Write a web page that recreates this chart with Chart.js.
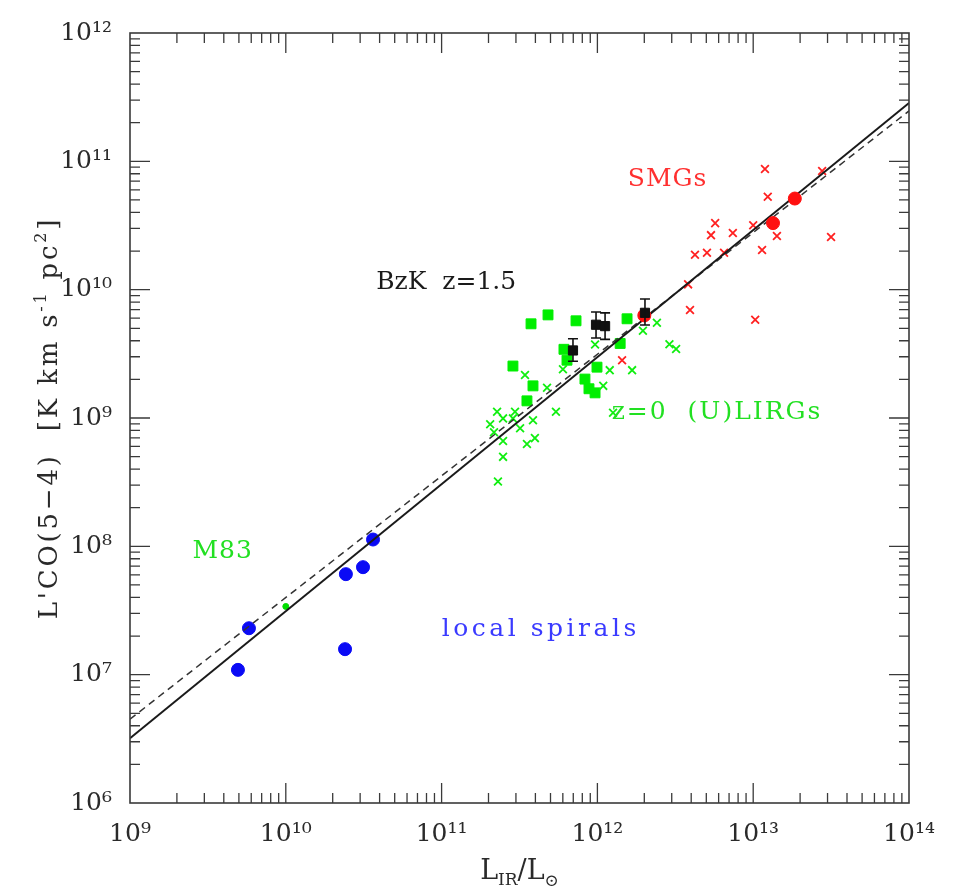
<!DOCTYPE html>
<html><head><meta charset="utf-8">
<script src="https://cdn.jsdelivr.net/npm/chart.js@4/dist/chart.umd.min.js"></script>
<style>html,body{margin:0;padding:0;background:#fff}#wrap{width:962px;height:895px}</style>
</head><body><div id="wrap"><canvas id="c" width="962" height="895"></canvas></div>
<script>
// ---- tick labels ----
const xTickValues = [1e9, 1e10, 1e11, 1e12, 1e13, 1e14];
const xTickLabels = ['10⁹', '10¹⁰', '10¹¹', '10¹²', '10¹³', '10¹⁴'];
const yTickValues = [1e6, 1e7, 1e8, 1e9, 1e10, 1e11, 1e12];
const yTickLabels = ['10⁶', '10⁷', '10⁸', '10⁹', '10¹⁰', '10¹¹', '10¹²'];

// ---- local spirals (blue circles) ----
const spiralsLIR = [4.93e9, 5.8e9, 2.4e10, 2.43e10, 3.13e10, 3.63e10];
const spiralsLCO = [1.09e7, 2.3e7, 1.58e7, 6.07e7, 6.88e7, 1.13e8];

// ---- M83 ----
const m83LIR = [1.0e10];
const m83LCO = [3.4e7];

// ---- z=0 (U)LIRGs, filled squares ----
const lirgSqLIR = [3.75e11, 4.82e11, 7.29e11, 1.55e12, 6.1e11, 6.38e11, 1.40e12, 2.87e11, 9.94e11, 8.32e11, 3.86e11, 8.83e11, 9.66e11, 3.53e11];
const lirgSqLCO = [5.42e9, 6.36e9, 5.72e9, 5.93e9, 3.43e9, 2.82e9, 3.81e9, 2.54e9, 2.49e9, 2.01e9, 1.78e9, 1.69e9, 1.57e9, 1.36e9];

// ---- z=0 (U)LIRGs, crosses ----
const lirgXLIR = [9.66e11, 3.43e11, 4.75e11, 6.01e11, 5.42e11, 2.27e11, 2.96e11, 2.05e11, 2.48e11, 2.87e11, 3.19e11, 3.86e11, 3.97e11, 3.53e11, 2.48e11, 2.48e11, 2.3e11, 1.96e12, 2.41e12, 2.9e12, 3.2e12, 1.2e12, 1.67e12, 1.09e12, 1.26e12, 2.17e11];
const lirgXLCO = [3.74e9, 2.16e9, 1.72e9, 2.4e9, 1.12e9, 1.12e9, 1.12e9, 8.93e8, 9.93e8, 9.93e8, 8.32e8, 9.59e8, 6.97e8, 6.27e8, 6.61e8, 4.98e8, 3.2e8, 4.79e9, 5.52e9, 3.75e9, 3.45e9, 2.36e9, 2.36e9, 1.78e9, 1.1e9, 7.75e8];

// ---- SMGs, crosses ----
const smgXLIR = [1.19e13, 2.77e13, 1.24e13, 5.7e12, 5.36e12, 7.4e12, 1.0e13, 1.42e13, 3.16e13, 4.23e12, 5.05e12, 6.5e12, 1.14e13, 3.82e12, 3.93e12, 1.03e13, 1.44e12];
const smgXLCO = [8.7e10, 8.4e10, 5.3e10, 3.3e10, 2.66e10, 2.76e10, 3.18e10, 2.62e10, 2.57e10, 1.87e10, 1.94e10, 1.94e10, 2.04e10, 1.10e10, 6.95e9, 5.82e9, 2.82e9];

// ---- SMGs, filled circles ----
const smgDotLIR = [1.85e13, 1.34e13, 2.0e12];
const smgDotLCO = [5.13e10, 3.3e10, 6.3e9];

// ---- BzK z=1.5 (black squares with error bars) ----
const bzkLIR = [6.97e11, 9.8e11, 1.12e12, 2.02e12];
const bzkLCO = [3.36e9, 5.33e9, 5.2e9, 6.6e9];
const bzkLCOlo = [2.77e9, 4.2e9, 4.1e9, 5.3e9];
const bzkLCOhi = [4.15e9, 6.7e9, 6.6e9, 8.45e9];

// ---- fits ----
const fitLIR = [1e9, 1e14];
const fitSolidLCO = [3.2e6, 2.85e11];
const fitDashedLCO = [4.5e6, 2.47e11];

// ---- annotation labels ----
const labelTexts = ['SMGs', 'BzK  z=1.5', 'z=0  (U)LIRGs', 'M83', 'local spirals'];
const labelLIR = [2.8e12, 1.07e11, 5.77e12, 3.9e9, 4.22e11];
const labelLCO = [7.2e10, 1.14e10, 1.1e9, 9.1e7, 2.26e7];
const labelColors = ['#ff3030', '#1a1a1a', '#22e022', '#22e022', '#3a3aff'];
const labelSpacing = [1, 0, 2, 1, 3.5];

const pts = (xs, ys) => xs.map((x, i) => ({x: x, y: ys[i]}));
const SERIF = '"DejaVu Serif", "Liberation Serif", serif';

function drawSpaced(ctx, text, x, y, sp) {
  // center text with extra letter spacing
  let w = 0;
  for (const ch of text) w += ctx.measureText(ch).width + sp;
  w -= sp;
  let cx = x - w / 2;
  ctx.textAlign = 'left';
  for (const ch of text) { ctx.fillText(ch, cx, y); cx += ctx.measureText(ch).width + sp; }
}

const framePlugin = {
  id: 'frame',
  afterDatasetsDraw(chart) {
    const ctx = chart.ctx;
    const xs = chart.scales.x, ys = chart.scales.y;
    // error bars
    ctx.save();
    ctx.strokeStyle = '#111'; ctx.lineWidth = 1.6;
    bzkLIR.forEach((lx, i) => {
      const px = xs.getPixelForValue(lx);
      const pl = ys.getPixelForValue(bzkLCOlo[i]);
      const ph = ys.getPixelForValue(bzkLCOhi[i]);
      ctx.beginPath();
      ctx.moveTo(px, pl); ctx.lineTo(px, ph);
      ctx.moveTo(px - 5, pl); ctx.lineTo(px + 5, pl);
      ctx.moveTo(px - 5, ph); ctx.lineTo(px + 5, ph);
      ctx.stroke();
    });
    ctx.restore();
    // annotation texts
    ctx.save();
    ctx.font = '25px ' + SERIF;
    ctx.textBaseline = 'middle';
    labelTexts.forEach((t, i) => {
      ctx.fillStyle = labelColors[i];
      drawSpaced(ctx, t, xs.getPixelForValue(labelLIR[i]), ys.getPixelForValue(labelLCO[i]), labelSpacing[i]);
    });
    ctx.restore();
  },
  afterDraw(chart) {
    const ctx = chart.ctx, a = chart.chartArea;
    const xs = chart.scales.x, ys = chart.scales.y;
    ctx.save();
    ctx.strokeStyle = '#3a3a3a';
    ctx.lineWidth = 1.6;
    ctx.strokeRect(a.left, a.top, a.right - a.left, a.bottom - a.top);
    ctx.lineWidth = 1.3;
    ctx.beginPath();
    for (let e = 9; e < 14; e++) {
      for (let k = 1; k <= 9; k++) {
        const v = k * Math.pow(10, e);
        if (v <= 1e9 || v >= 1e14) continue;
        const p = xs.getPixelForValue(v);
        const len = k === 1 ? 20 : 10;
        ctx.moveTo(p, a.bottom); ctx.lineTo(p, a.bottom - len);
        ctx.moveTo(p, a.top); ctx.lineTo(p, a.top + len);
      }
    }
    for (let e = 6; e < 12; e++) {
      for (let k = 1; k <= 9; k++) {
        const v = k * Math.pow(10, e);
        if (v <= 1e6 || v >= 1e12) continue;
        const p = ys.getPixelForValue(v);
        const len = k === 1 ? 20 : 10;
        ctx.moveTo(a.left, p); ctx.lineTo(a.left + len, p);
        ctx.moveTo(a.right, p); ctx.lineTo(a.right - len, p);
      }
    }
    ctx.stroke();
    ctx.restore();

    // axis titles
    ctx.save();
    ctx.fillStyle = '#2a2a2a';
    ctx.textBaseline = 'alphabetic';
    // x title: L_IR / L_sun
    const big = '27px ' + SERIF, small = '17px ' + SERIF;
    const xParts = [['L', big, 0], ['IR', small, 6], ['/L', big, 0], ['⊙', small, 7]];
    let w = 0;
    xParts.forEach(p => { ctx.font = p[1]; w += ctx.measureText(p[0]).width; });
    let cx = (a.left + a.right) / 2 - w / 2;
    const by = 879;
    xParts.forEach(p => { ctx.font = p[1]; ctx.fillText(p[0], cx, by + p[2]); cx += ctx.measureText(p[0]).width; });
    // y title
    ctx.translate(57, (a.top + a.bottom) / 2);
    ctx.rotate(-Math.PI / 2);
    const sp = 2.8;
    const yBig = '26px ' + SERIF, ySmall = '16px ' + SERIF;
    const yParts = [["L'CO(5\u22124)  [K km s", yBig, 0], ['-1', ySmall, -11], [' pc', yBig, 0], ['2', ySmall, -11], [']', yBig, 0]];
    w = 0;
    yParts.forEach(p => { ctx.font = p[1]; for (const ch of p[0]) w += ctx.measureText(ch).width + sp; });
    cx = -w / 2;
    yParts.forEach(p => { ctx.font = p[1]; for (const ch of p[0]) { ctx.fillText(ch, cx, p[2]); cx += ctx.measureText(ch).width + sp; } });
    ctx.restore();
  }
};

new Chart(document.getElementById('c'), {
  type: 'scatter',
  data: {
    datasets: [
      { label: 'BzK z=1.5', data: pts(bzkLIR, bzkLCO), pointStyle: 'rect', pointRadius: 6.5, backgroundColor: '#111', borderColor: '#111', borderWidth: 1, order: 0 },
      { label: 'SMG circles', data: pts(smgDotLIR, smgDotLCO), pointStyle: 'circle', pointRadius: 6.5, backgroundColor: '#ff1010', borderColor: '#ff1010', borderWidth: 1, order: 1 },
      { label: 'fit', type: 'line', data: pts(fitLIR, fitSolidLCO), borderColor: '#1a1a1a', borderWidth: 2, pointRadius: 0, fill: false, order: 2 },
      { label: 'fit dashed', type: 'line', data: pts(fitLIR, fitDashedLCO), borderColor: '#333', borderWidth: 1.5, borderDash: [7, 5], pointRadius: 0, fill: false, order: 3 },
      { label: 'SMG crosses', data: pts(smgXLIR, smgXLCO), pointStyle: 'crossRot', pointRadius: 5.5, borderColor: '#ff2020', borderWidth: 1.8, order: 4 },
      { label: 'LIRG crosses', data: pts(lirgXLIR, lirgXLCO), pointStyle: 'crossRot', pointRadius: 5.5, borderColor: '#10ee10', borderWidth: 1.8, order: 5 },
      { label: 'LIRG squares', data: pts(lirgSqLIR, lirgSqLCO), pointStyle: 'rect', pointRadius: 7, backgroundColor: '#00ee00', borderColor: '#00ee00', borderWidth: 1, order: 6 },
      { label: 'M83', data: pts(m83LIR, m83LCO), pointStyle: 'circle', pointRadius: 3, backgroundColor: '#00dd00', borderColor: '#00dd00', order: 7 },
      { label: 'local spirals', data: pts(spiralsLIR, spiralsLCO), pointStyle: 'circle', pointRadius: 6.5, backgroundColor: '#0a0af5', borderColor: '#0a0af5', borderWidth: 1, order: 8 }
    ]
  },
  options: {
    responsive: false,
    animation: false,
    devicePixelRatio: 1,
    layout: { padding: { top: 22, right: 53, left: 0, bottom: 0 } },
    plugins: { legend: { display: false }, tooltip: { enabled: false } },
    scales: {
      x: {
        type: 'logarithmic', min: 1e9, max: 1e14, position: 'bottom',
        afterBuildTicks: s => { s.ticks = xTickValues.map(v => ({ value: v, major: true })); },
        afterFit: s => { s.height = 92; },
        grid: { display: false, drawTicks: false }, border: { display: false },
        ticks: {
          autoSkip: false, maxRotation: 0, padding: 16, color: '#2a2a2a',
          font: { family: SERIF, size: 25 },
          callback: v => { const i = xTickValues.indexOf(v); return i >= 0 ? xTickLabels[i] : ''; }
        }
      },
      y: {
        type: 'logarithmic', min: 1e6, max: 1e12, position: 'left',
        afterBuildTicks: s => { s.ticks = yTickValues.map(v => ({ value: v, major: true })); },
        afterFit: s => { s.width = 130; },
        grid: { display: false, drawTicks: false }, border: { display: false },
        ticks: {
          autoSkip: false, padding: 18, color: '#2a2a2a',
          font: { family: SERIF, size: 25 },
          callback: v => { const i = yTickValues.indexOf(v); return i >= 0 ? yTickLabels[i] : ''; }
        }
      }
    }
  },
  plugins: [framePlugin]
});
</script>
</body></html>
